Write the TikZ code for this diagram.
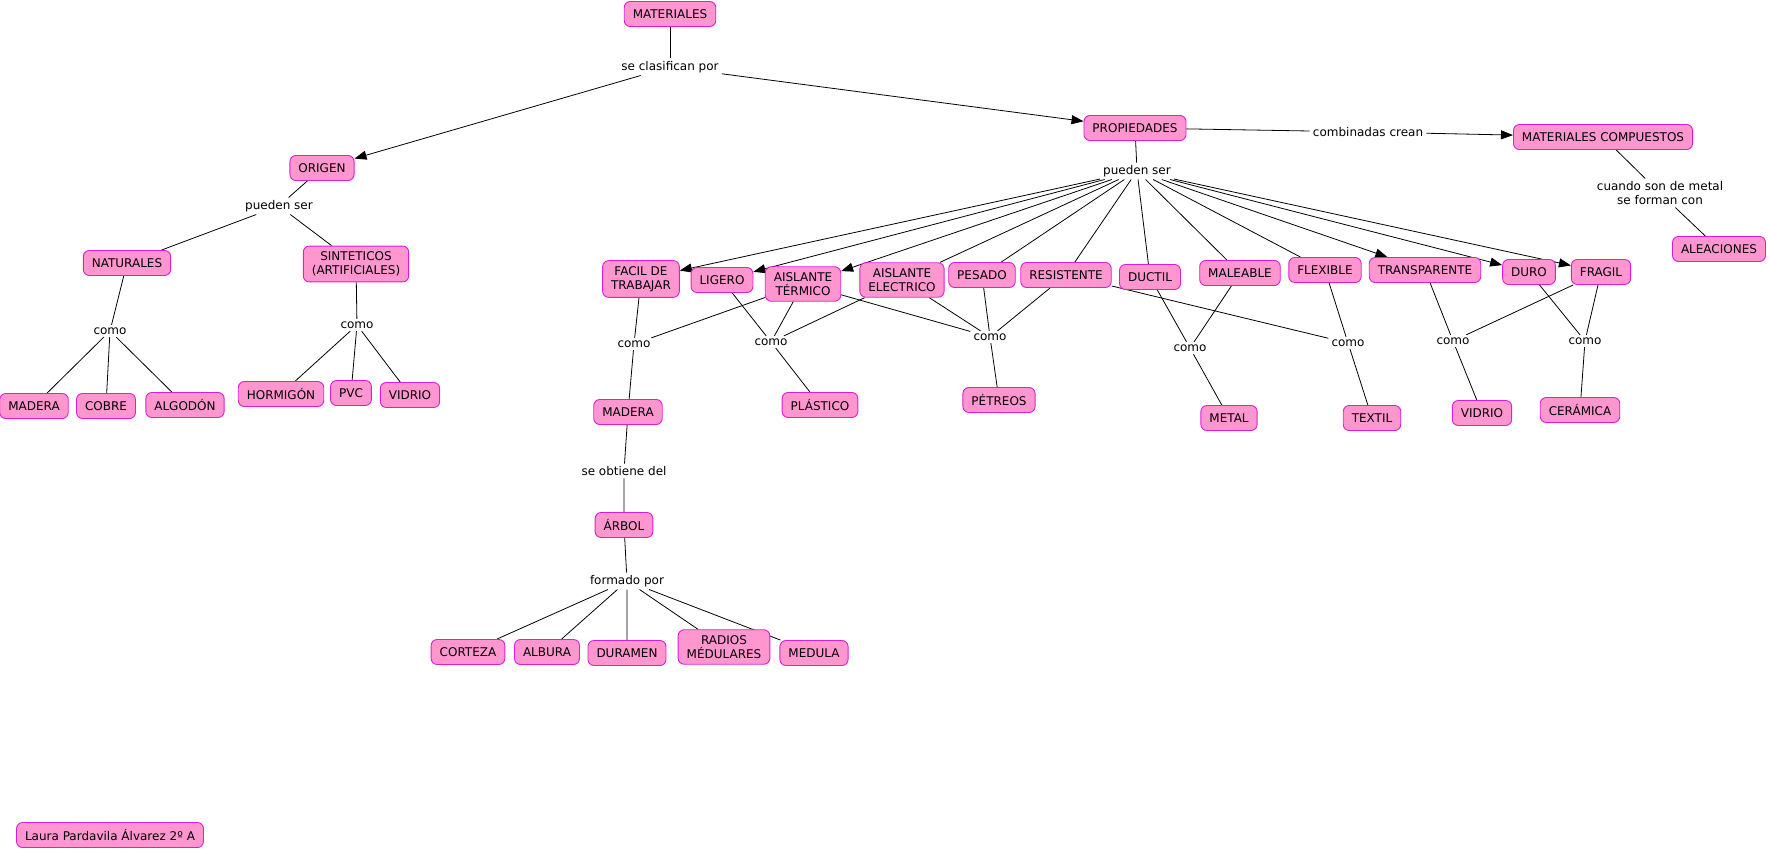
\documentclass[tikz,border=0pt]{standalone}
\usepackage{fontspec}
\setmainfont{DejaVu Sans}
\usetikzlibrary{arrows.meta,backgrounds}
\definecolor{cmappink}{RGB}{255,150,208}
\definecolor{cmapmagenta}{RGB}{220,30,210}
\newcommand{\cmapfont}{\fontsize{12}{14.4}\selectfont}

\begin{document}
\begin{tikzpicture}[x=1pt,y=-1pt,
  concept/.style={draw=cmapmagenta,line width=0.9pt,fill=cmappink,rounded corners=6pt,
                  align=center,font=\cmapfont,inner xsep=8.5pt,inner ysep=5.5pt,
                  minimum height=25pt},
  linkph/.style={align=center,font=\cmapfont,inner xsep=3pt,inner ysep=2.5pt},
  conn/.style={line width=0.8pt},
  arr/.style={conn,-{Triangle[length=12pt,width=9pt]}}]
  \useasboundingbox (0,0) rectangle (1769,851);

  \node[concept] (mat) at (670,14) {MATERIALES};
  \node[linkph] (clasif) at (670,67) {se clasifican por};
  \node[concept] (origen) at (322,168) {ORIGEN};
  \node[concept] (prop) at (1135,128) {PROPIEDADES};
  \node[linkph] (comb) at (1368,132) {combinadas crean};
  \node[concept] (comp) at (1603,137) {MATERIALES COMPUESTOS};
  \node[linkph] (cuando) at (1660,193) {cuando son de metal\\se forman con};
  \node[concept] (alea) at (1719,249) {ALEACIONES};

  \node[linkph] (pser1) at (279,206) {pueden ser};
  \node[concept] (nat) at (127,263) {NATURALES};
  \node[concept] (sint) at (356,264) {SINTETICOS\\(ARTIFICIALES)};
  \node[linkph] (como1) at (110,331) {como};
  \node[linkph] (como2) at (357,325) {como};
  \node[concept] (madera1) at (34,406) {MADERA};
  \node[concept] (cobre) at (106,406) {COBRE};
  \node[concept] (algodon) at (185,405) {ALGODÓN};
  \node[concept] (hormigon) at (281,394) {HORMIGÓN};
  \node[concept] (pvc) at (351,393) {PVC};
  \node[concept] (vidrio1) at (410,395) {VIDRIO};

  \node[linkph] (pser2) at (1137,171) {pueden ser};
  \node[concept] (facil) at (641,279) {FACIL DE\\TRABAJAR};
  \node[concept] (ligero) at (722,280) {LIGERO};
  \node[concept] (term) at (803,284) {AISLANTE\\TÉRMICO};
  \node[concept] (elec) at (902,280) {AISLANTE\\ELECTRICO};
  \node[concept] (pesado) at (982,275) {PESADO};
  \node[concept] (resist) at (1066,275) {RESISTENTE};
  \node[concept] (ductil) at (1150,277) {DUCTIL};
  \node[concept] (maleable) at (1240,273) {MALEABLE};
  \node[concept] (flexible) at (1325,270) {FLEXIBLE};
  \node[concept] (transp) at (1425,270) {TRANSPARENTE};
  \node[concept] (duro) at (1529,272) {DURO};
  \node[concept] (fragil) at (1601,272) {FRAGIL};

  \node[linkph] (como3) at (634,344) {como};
  \node[linkph] (como4) at (771,342) {como};
  \node[linkph] (como5) at (990,337) {como};
  \node[linkph] (como6) at (1190,348) {como};
  \node[linkph] (como7) at (1348,343) {como};
  \node[linkph] (como8) at (1453,341) {como};
  \node[linkph] (como9) at (1585,341) {como};
  \node[concept] (madera2) at (628,412) {MADERA};
  \node[concept] (plast) at (820,405) {PLÁSTICO};
  \node[concept] (petreos) at (999,400) {PÉTREOS};
  \node[concept] (metal) at (1229,418) {METAL};
  \node[concept] (textil) at (1372,418) {TEXTIL};
  \node[concept] (vidrio2) at (1482,413) {VIDRIO};
  \node[concept] (ceram) at (1580,410) {CERÁMICA};

  \node[linkph] (obtiene) at (624,471) {se obtiene del};
  \node[concept] (arbol) at (624,525) {ÁRBOL};
  \node[linkph] (formado) at (627,581) {formado por};
  \node[concept] (corteza) at (468,652) {CORTEZA};
  \node[concept] (albura) at (547,652) {ALBURA};
  \node[concept] (duramen) at (627,653) {DURAMEN};
  \node[concept] (radios) at (724,647) {RADIOS\\MÉDULARES};
  \node[concept] (medula) at (814,653) {MEDULA};

  \node[concept] (autora) at (110,835) {Laura Pardavila Álvarez 2º A};

  \begin{scope}[on background layer]
    \draw[conn] (mat) -- (clasif);
    \draw[arr] (clasif) -- (origen);
    \draw[arr] (clasif) -- (prop);
    \draw[conn] (prop) -- (comb);
    \draw[arr] (comb) -- (comp);
    \draw[conn] (comp) -- (cuando) (cuando) -- (alea);

    \draw[conn] (origen) -- (pser1) (pser1) -- (nat) (pser1) -- (sint);
    \draw[conn] (nat) -- (como1) (como1) -- (madera1) (como1) -- (cobre) (como1) -- (algodon);
    \draw[conn] (sint) -- (como2) (como2) -- (hormigon) (como2) -- (pvc) (como2) -- (vidrio1);

    \draw[conn] (prop) -- (pser2);
    \draw[arr] (pser2) -- (facil);
    \draw[arr] (pser2) -- (ligero);
    \draw[arr] (pser2) -- (term);
    \draw[arr] (pser2) -- (transp);
    \draw[arr] (pser2) -- (duro);
    \draw[arr] (pser2) -- (fragil);
    \draw[conn] (pser2) -- (elec) (pser2) -- (pesado) (pser2) -- (resist)
      (pser2) -- (ductil) (pser2) -- (maleable) (pser2) -- (flexible);

    \draw[conn] (facil) -- (como3) (term) -- (como3) (como3) -- (madera2);
    \draw[conn] (ligero) -- (como4) (term) -- (como4) (elec) -- (como4) (como4) -- (plast);
    \draw[conn] (term) -- (como5) (elec) -- (como5) (pesado) -- (como5) (resist) -- (como5)
      (como5) -- (petreos);
    \draw[conn] (ductil) -- (como6) (maleable) -- (como6) (como6) -- (metal);
    \draw[conn] (resist) -- (como7) (flexible) -- (como7) (como7) -- (textil);
    \draw[conn] (transp) -- (como8) (fragil) -- (como8) (como8) -- (vidrio2);
    \draw[conn] (duro) -- (como9) (fragil) -- (como9) (como9) -- (ceram);

    \draw[conn] (madera2) -- (obtiene) (obtiene) -- (arbol);
    \draw[conn] (arbol) -- (formado) (formado) -- (corteza) (formado) -- (albura)
      (formado) -- (duramen) (formado) -- (radios) (formado) -- (medula);
  \end{scope}
\end{tikzpicture}
\end{document}
